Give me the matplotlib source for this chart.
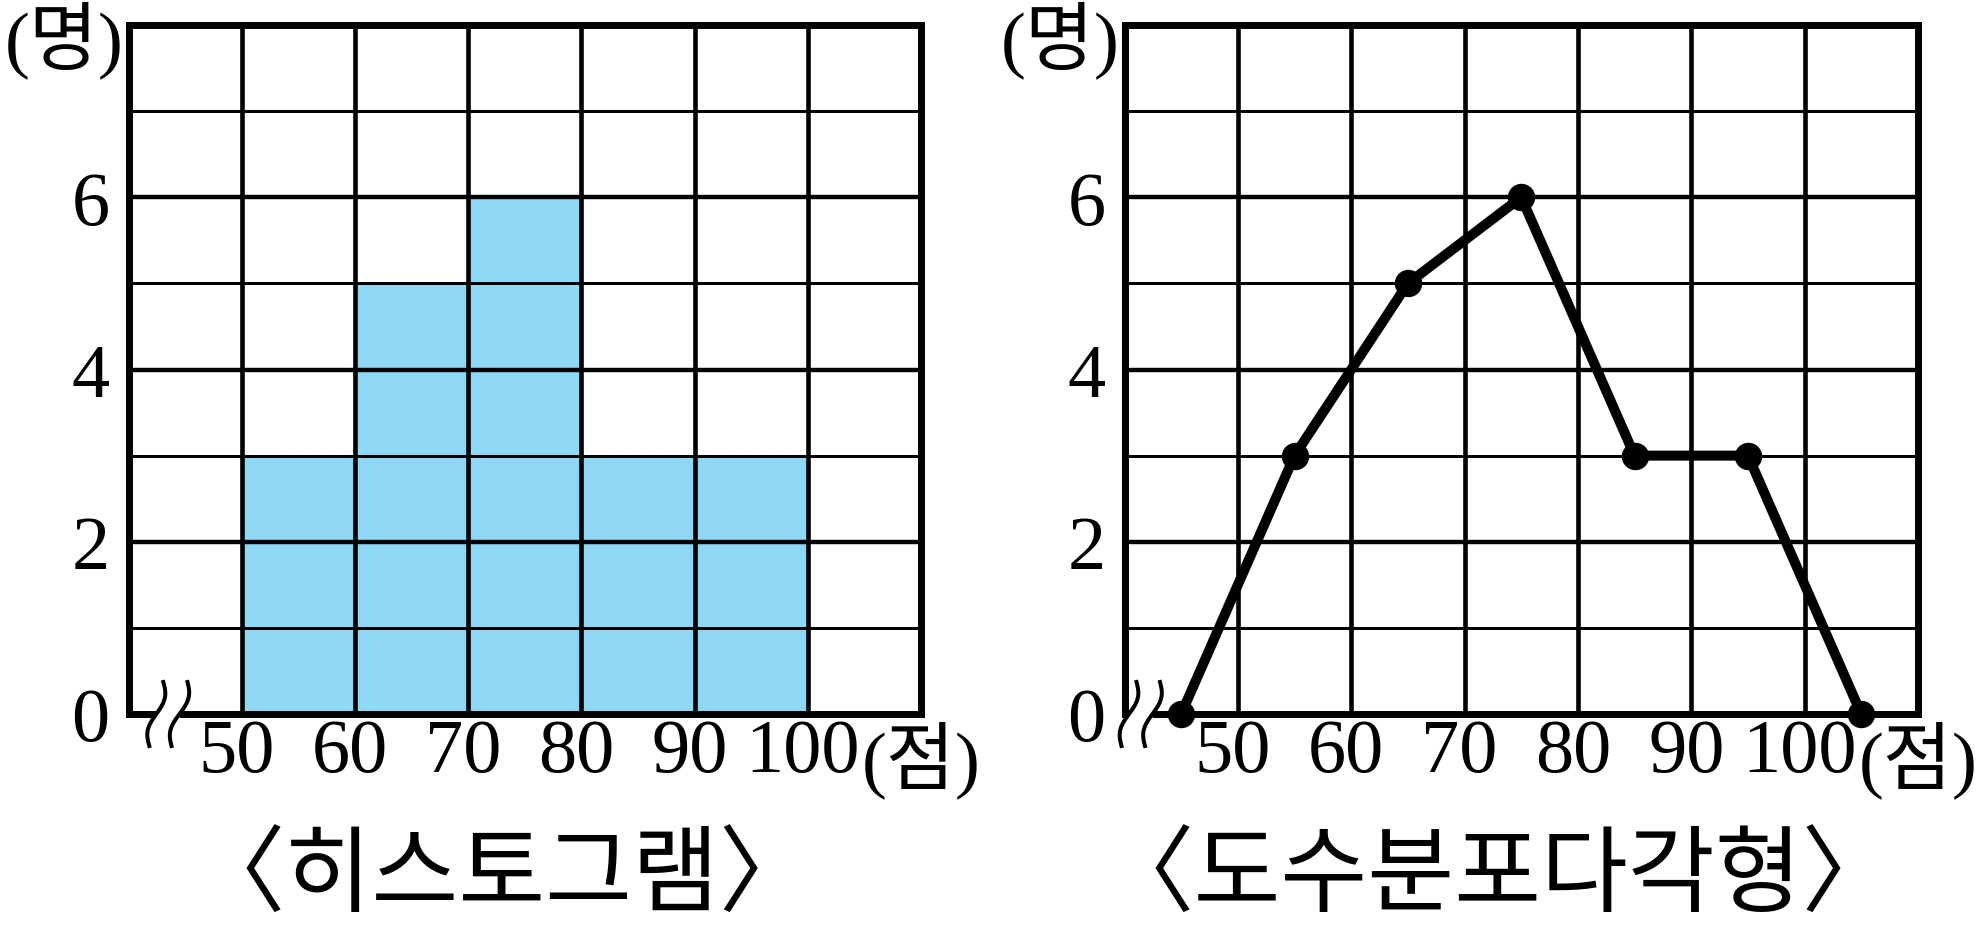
import matplotlib
matplotlib.use('Agg')
import matplotlib.pyplot as plt
import matplotlib.transforms as mtransforms
import numpy as np

plt.rcParams['font.family'] = ['Liberation Serif', 'Noto Sans CJK KR', 'DejaVu Sans']

# ---- data ----
class_starts = [50, 60, 70, 80, 90]
class_width = 10
hist_counts = [3, 5, 6, 3, 3]
poly_x = [45, 55, 65, 75, 85, 95, 105]
poly_y = [0, 3, 5, 6, 3, 3, 0]
x_ticks = [50, 60, 70, 80, 90, 100]
x_tick_labels = ['50', '60', '70', '80', '90', '100']
y_major = [0, 2, 4, 6, 8]
y_major_labels = ['0', '2', '4', '6', '']
y_minor = [1, 3, 5, 7]
x_range = (40, 110)
y_range = (0, 8)
y_unit = '(명)'
x_unit = '(점)'
titles = ['〈히스토그램〉', '〈도수분포다각형〉']

# ---- figure ----
W, H = 1984, 929
DPI = 100
fig = plt.figure(figsize=(W / DPI, H / DPI), dpi=DPI)
BLUE = '#8ED8F6'


def pt(v):
    """pixels -> points"""
    return v * 72.0 / DPI


ax1 = fig.add_axes([128.5 / W, 214 / H, 792.5 / W, 689 / H])
ax2 = fig.add_axes([1124.5 / W, 214 / H, 793.5 / W, 689 / H])


def setup(ax, title):
    ax.set_xlim(*x_range)
    ax.set_ylim(*y_range)
    ax.set_xticks(x_ticks)
    ax.set_xticklabels(x_tick_labels)
    ax.set_yticks(y_major)
    ax.set_yticklabels(y_major_labels)
    ax.set_yticks(y_minor, minor=True)
    ax.set_axisbelow(False)
    ax.grid(which='major', axis='x', color='black', lw=pt(4.6))
    ax.grid(which='major', axis='y', color='black', lw=pt(4.4))
    ax.grid(which='minor', axis='y', color='black', lw=pt(3.0))
    ax.tick_params(axis='both', which='both', length=0)
    ax.tick_params(axis='x', which='major', pad=pt(4), labelsize=55)
    ax.tick_params(axis='y', which='major', pad=pt(19), labelsize=55)
    shift = mtransforms.ScaledTranslation(-5 / DPI, 0, fig.dpi_scale_trans)
    for lbl in ax.get_xticklabels():
        lbl.set_transform(lbl.get_transform() + shift)
    for s in ax.spines.values():
        s.set_linewidth(pt(7))
        s.set_color('black')
        s.set_zorder(3)
    ax.annotate(y_unit, xy=(0, 1), xycoords='axes fraction',
                xytext=(pt(-64), pt(-14)), textcoords='offset points',
                ha='center', va='center', fontsize=54, annotation_clip=False)
    ax.annotate(x_unit, xy=(1, 0), xycoords='axes fraction',
                xytext=(pt(0), pt(-6)), textcoords='offset points',
                ha='center', va='top', fontsize=54, annotation_clip=False)
    ax.annotate(title, xy=(0.5, 0), xycoords='axes fraction',
                xytext=(pt(-23), pt(-166)), textcoords='offset points',
                ha='center', va='center', fontsize=68, annotation_clip=False)


def draw_break(ax, pairs):
    trans = fig.dpi_scale_trans + mtransforms.ScaledTranslation(0, 0, ax.transAxes)
    t = np.linspace(0, 1, 80)
    mids = []
    curves = []
    for xt, xb in pairs:
        xo = xt + (xb - xt) * t + 5 * np.sin(2 * np.pi * t)
        yo = 32 - 64 * t
        curves.append((xo, yo))
        mids.append((xt + xb) / 2)
    ax.plot([mids[0] / DPI, mids[1] / DPI], [0, 0], transform=trans,
            color='white', lw=pt(12), clip_on=False, zorder=5,
            solid_capstyle='butt')
    for xo, yo in curves:
        ax.plot(xo / DPI, yo / DPI, transform=trans, color='black',
                lw=pt(4), clip_on=False, zorder=6)


setup(ax1, titles[0])
setup(ax2, titles[1])

# histogram
ax1.bar(class_starts, hist_counts, width=class_width, align='edge',
        color=BLUE, edgecolor='black', linewidth=pt(3), zorder=1)

# frequency polygon
ax2.plot(poly_x, poly_y, '-o', color='black', lw=pt(10), ms=pt(26),
         clip_on=False, zorder=7)

draw_break(ax1, [(34.8, 20.8), (59, 43)])
draw_break(ax2, [(12, -3), (35.5, 20.5)])

fig.savefig('out.png', dpi=DPI)
